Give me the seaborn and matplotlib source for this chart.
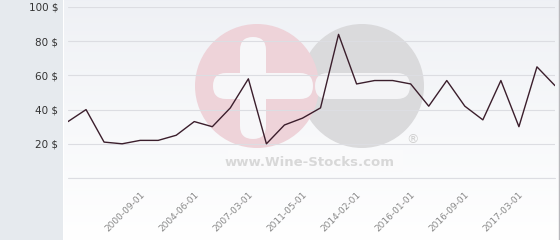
import numpy as np
import pandas as pd
import matplotlib
matplotlib.use("Agg")
import matplotlib.pyplot as plt
import seaborn as sns
from matplotlib.patches import Circle, FancyBboxPatch, Rectangle

# ---- data ----
prices = [33, 40, 21, 20, 22, 22, 25, 33, 30, 41, 58, 20, 31, 35, 41, 84,
          55, 57, 57, 55, 42, 57, 42, 34, 57, 30, 65, 54]
tick_positions = [4, 7, 10, 13, 16, 19, 22, 25]
tick_labels = ["2000-09-01", "2004-06-01", "2007-03-01", "2011-05-01",
               "2014-02-01", "2016-01-01", "2016-09-01", "2017-03-01"]
y_ticks = [20, 40, 60, 80, 100]
y_tick_labels = ["20 $", "40 $", "60 $", "80 $", "100 $"]

df = pd.DataFrame({"idx": np.arange(len(prices)), "price": prices})

sns.set_theme(style="white")
plt.rcParams['font.family'] = ['DejaVu Sans']

W, H = 560, 240
fig = plt.figure(figsize=(W / 100, H / 100), dpi=100)
fig.patch.set_facecolor("white")

# background axes in pixel coords
bg = fig.add_axes([0, 0, 1, 1], zorder=0)
bg.set_xlim(0, W)
bg.set_ylim(H, 0)
bg.axis("off")
# left panel
bg.add_patch(Rectangle((0, 0), 63, H, color="#e6eaee", lw=0))
# gradient plot background
grad = np.linspace(0, 1, 256)[:, None]
top = np.array([0.937, 0.945, 0.961])
bot = np.array([1.0, 1.0, 1.0])
img = top[None, None, :] * (1 - grad[:, :, None]) + bot[None, None, :] * grad[:, :, None]
bg.imshow(img, extent=[64, W, H, 0], aspect="auto", zorder=0.5)
# right border
bg.plot([559, 559], [0, H], color="#b8b8bc", lw=1.0, zorder=2)

# watermark
bg.add_patch(Circle((362, 86), 62, color="#dadadc", lw=0, zorder=1))
bg.add_patch(Circle((257, 86), 62, color="#eed3d9", lw=0, zorder=1.1))
bg.add_patch(FancyBboxPatch((253, 50), 0, 76, boxstyle="round,pad=13",
                            color="#f7f7f9", lw=0, zorder=1.2))
bg.add_patch(FancyBboxPatch((226, 86), 74, 0, boxstyle="round,pad=13",
                            color="#f7f7f9", lw=0, zorder=1.2))
bg.add_patch(FancyBboxPatch((328, 86), 69, 0, boxstyle="round,pad=13",
                            color="#f4f4f6", lw=0, zorder=1.2))
bg.add_patch(Rectangle((228, 150), 175, 22, color="#fafafb", lw=0, zorder=1.05))
bg.text(310, 162, "www.Wine-Stocks.com", ha="center", va="center",
        fontsize=9.5, fontweight="bold", color="#d8d8d8", zorder=1.3)
bg.text(413, 140, "®", ha="center", va="center", fontsize=9,
        color="#d0d0d0", zorder=1.3)

# main axes
ax = fig.add_axes([68 / W, 1 - 178 / H, (555 - 68) / W, (178 - 7) / H], zorder=1)
ax.set_facecolor("none")
sns.lineplot(data=df, x="idx", y="price", ax=ax, color="#3b1e2c", linewidth=1.0)
ax.set_xlim(0, len(prices) - 1)
ax.set_ylim(0, 100)
ax.set_yticks([0] + y_ticks)
ax.set_yticklabels([""] + y_tick_labels, fontsize=7.5, color="#333333")
ax.yaxis.grid(True, color="#dcdde2", linewidth=0.8)
ax.axhline(0, color="#dcdde2", linewidth=0.8, clip_on=False, zorder=0)
ax.set_xticks(tick_positions)
ax.set_xticklabels(tick_labels, rotation=45, ha="right", rotation_mode="anchor",
                   fontsize=6.5, color="#888888")
ax.tick_params(axis="x", length=0, pad=9)
ax.tick_params(axis="y", length=0, pad=7)
for s in ["top", "left", "bottom", "right"]:
    ax.spines[s].set_visible(False)
ax.set_xlabel("")
ax.set_ylabel("")

fig.savefig("out.png", dpi=100)
